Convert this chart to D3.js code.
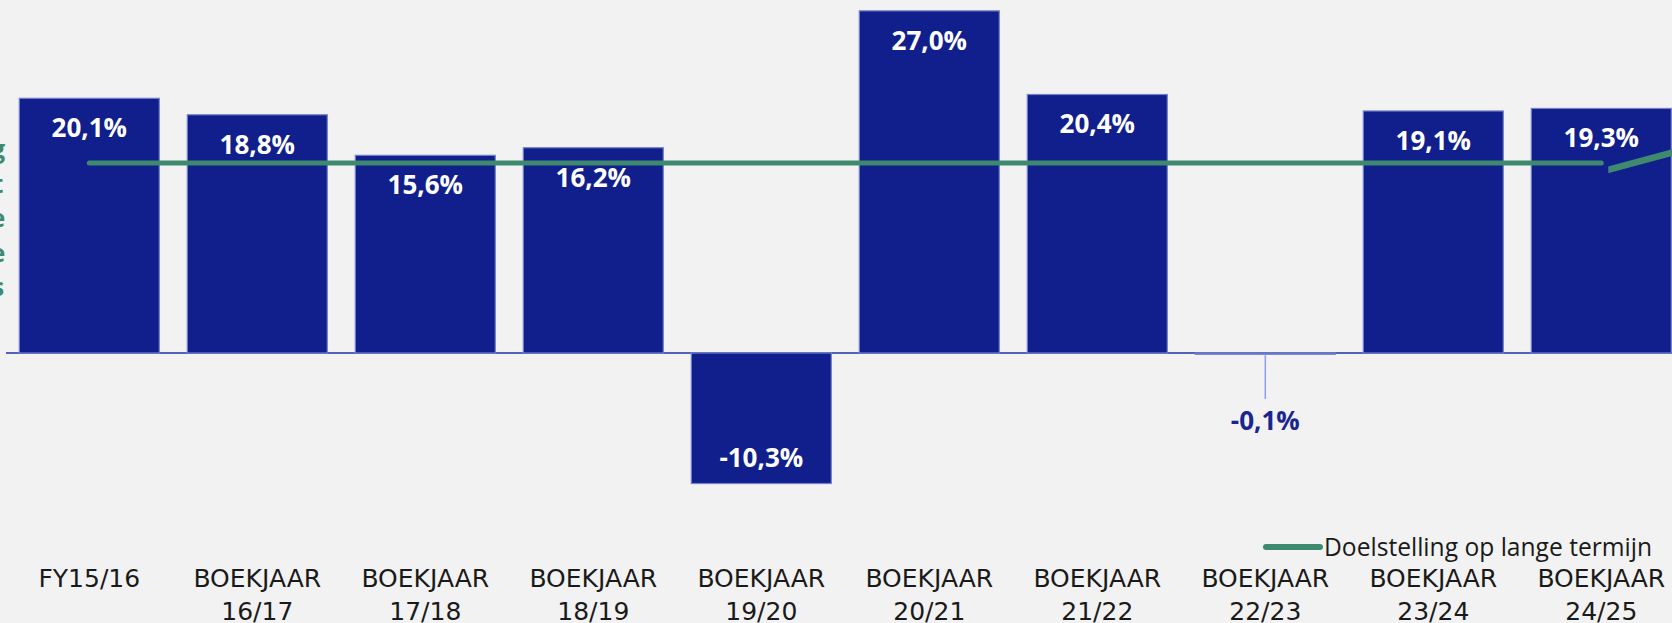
<!DOCTYPE html>
<html>
<head>
<meta charset="utf-8">
<script src="https://cdn.jsdelivr.net/npm/d3@7"></script>
<style>
  html, body { margin: 0; padding: 0; background: #f2f2f2; overflow: hidden; }
  svg { display: block; }
</style>
</head>
<body>
<div id="chart"></div>
<script>
// data
var categories = ["FY15/16", "BOEKJAAR 16/17", "BOEKJAAR 17/18", "BOEKJAAR 18/19", "BOEKJAAR 19/20",
                  "BOEKJAAR 20/21", "BOEKJAAR 21/22", "BOEKJAAR 22/23", "BOEKJAAR 23/24", "BOEKJAAR 24/25"];
var values = [20.1, 18.8, 15.6, 16.2, -10.3, 27.0, 20.4, -0.1, 19.1, 19.3];
var target = [15, 15, 15, 15, 15, 15, 15, 15, 15, 15];
// second green line that runs off the right edge
var targetNext = [14.3, 17.9];
var legendLabel = "Doelstelling op lange termijn";
var sideLetters = ["g", "t", "e", "e", "s"];

var width = 1672,
  height = 623,
  barColor = "#111f8d",
  barEdge = "#7580c9",
  lineColor = "#3f8a6f",
  axisColor = "#5562b8";

var svg = d3.select("#chart").append("svg")
  .attr("width", width)
  .attr("height", height);

svg.append("rect").attr("width", width).attr("height", height).attr("fill", "#f2f2f2");

var x = d3.scaleBand()
  .domain(categories)
  .range([5.3, 1685.3])
  .paddingInner(1 / 6)
  .paddingOuter(1 / 12);

var y = d3.scaleLinear()
  .domain([-20, 28])
  .range([353 + 20 * 12.672, 353 - 28 * 12.672]);

function cx(i) {
  return x(categories[i]) + x.bandwidth() / 2;
}

// green letters cut off at the left edge (as in the source)
svg.selectAll("text.side")
  .data(sideLetters)
  .enter()
  .append("text")
  .attr("class", "side")
  .attr("x", -2)
  .attr("y", function (d, i) { return 158 + i * 34.5; })
  .attr("text-anchor", "middle")
  .style("font-family", "'Open Sans', sans-serif")
  .style("font-weight", "bold")
  .style("font-size", "25px")
  .style("fill", lineColor)
  .text(function (d) { return d; });

// zero line
svg.append("line")
  .attr("x1", 6).attr("x2", width)
  .attr("y1", y(0)).attr("y2", y(0))
  .attr("stroke", axisColor)
  .attr("stroke-width", 2);

// bars
svg.selectAll("rect.bar")
  .data(values)
  .enter()
  .append("rect")
  .attr("class", "bar")
  .attr("x", function (d, i) { return x(categories[i]); })
  .attr("y", function (d) { return y(Math.max(d, 0)); })
  .attr("width", x.bandwidth())
  .attr("height", function (d) { return Math.abs(y(d) - y(0)); })
  .attr("fill", barColor)
  .attr("stroke", barEdge)
  .attr("stroke-width", 1.2);

// value labels
svg.selectAll("text.val")
  .data(values)
  .enter()
  .append("text")
  .attr("class", "val")
  .attr("x", function (d, i) { return cx(i); })
  .attr("y", function (d) {
    if (d >= 0) return y(d) + 39;
    if (y(d) - y(0) > 40) return y(d) - 17;
    return y(0) + 77;
  })
  .attr("text-anchor", "middle")
  .style("font-family", "'Open Sans', sans-serif")
  .style("font-weight", "bold")
  .style("font-size", "26px")
  .style("fill", function (d) { return (d < 0 && y(d) - y(0) <= 40) ? "#1a2590" : "#ffffff"; })
  .text(function (d) { return d.toFixed(1).replace(".", ",") + "%"; });

// leader line for the small negative bar
values.forEach(function (d, i) {
  if (d < 0 && y(d) - y(0) <= 40) {
    svg.append("line")
      .attr("x1", cx(i)).attr("x2", cx(i))
      .attr("y1", y(d) + 1).attr("y2", y(0) + 46)
      .attr("stroke", "#8d9cf2")
      .attr("stroke-width", 1.5);
  }
});

// target line
var line = d3.line()
  .x(function (d, i) { return cx(i); })
  .y(function (d) { return y(d); });

svg.append("path")
  .datum(target)
  .attr("d", line)
  .attr("fill", "none")
  .attr("stroke", lineColor)
  .attr("stroke-width", 5)
  .attr("stroke-linecap", "round");

// start of the next segment, clipped like in the source
svg.append("clipPath").attr("id", "nextclip")
  .append("rect")
  .attr("x", cx(9) + 7).attr("y", 0)
  .attr("width", width).attr("height", height);

var step = x.step();
svg.append("path")
  .datum(targetNext)
  .attr("d", d3.line()
    .x(function (d, i) { return cx(9) + i * step; })
    .y(function (d) { return y(d); }))
  .attr("clip-path", "url(#nextclip)")
  .attr("fill", "none")
  .attr("stroke", lineColor)
  .attr("stroke-width", 6.5);

// category labels
var xl = svg.selectAll("text.cat")
  .data(categories)
  .enter()
  .append("text")
  .attr("class", "cat")
  .attr("text-anchor", "middle")
  .style("font-family", "'DejaVu Sans', sans-serif")
  .style("font-size", "25px")
  .style("fill", "#1a1a1a");

xl.each(function (d, i) {
  var parts = d.split(" ");
  d3.select(this).selectAll("tspan")
    .data(parts)
    .enter()
    .append("tspan")
    .attr("x", cx(i))
    .attr("y", function (p, j) { return 587 + j * 33; })
    .text(function (p) { return p; });
});

// legend
svg.append("line")
  .attr("x1", 1266).attr("x2", 1320)
  .attr("y1", 547).attr("y2", 547)
  .attr("stroke", lineColor)
  .attr("stroke-width", 6)
  .attr("stroke-linecap", "round");

svg.append("text")
  .attr("x", 1324)
  .attr("y", 556)
  .style("font-family", "'Open Sans', sans-serif")
  .style("font-size", "24.6px")
  .style("fill", "#1a1a1a")
  .text(legendLabel);
</script>
</body>
</html>
